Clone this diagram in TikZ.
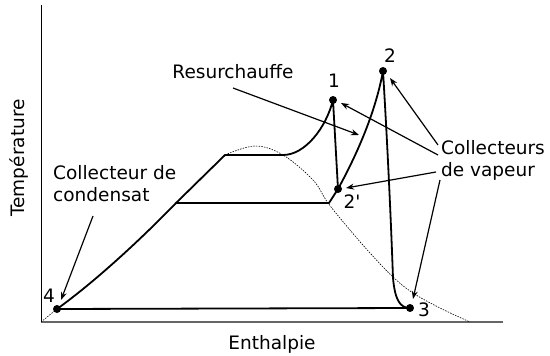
\documentclass[tikz,border=0pt]{standalone}
\usepackage{fontspec}
\setmainfont{DejaVu Sans}
\newfontfamily\plainfont{DejaVu Sans}[Mapping=]
\usetikzlibrary{arrows.meta}
\begin{document}
\begin{tikzpicture}[x=1pt,y=-1pt,
  curve/.style={line width=1.8pt,line join=round},
  arr/.style={line width=1.2pt,-{Stealth[length=8pt,width=6pt]}},
  dome/.style={line width=0.6pt,dash pattern=on 1.5pt off 1.2pt},
  lbl/.style={font=\fontsize{18.5}{22}\selectfont,inner sep=0pt},
  dot/.style={circle,fill=black,inner sep=0pt,minimum size=8pt}]
\useasboundingbox (0,0) rectangle (550,356);
% axes
\coordinate (O) at (41,322);
\coordinate (Ytop) at (41,5);
\coordinate (Xend) at (503,322);
\draw[line width=1pt] (Ytop) -- (O);
\draw[line width=1.2pt,black!60] (O) -- (Xend);
% state points
\node[dot] (p4) at (57,309) {};
\node[dot] (p3) at (410,308) {};
\node[dot] (p2p) at (338,189) {};
\node[dot] (p1) at (333,100) {};
\node[dot] (p2) at (383,71) {};
\coordinate (A) at (176,203);
\coordinate (B) at (225,155);
\coordinate (C) at (283,155);
\coordinate (D) at (329,203);
% dome
\draw[dome] (O) -- (p4.center);
\draw[dome] plot[smooth,tension=0.6] coordinates {(225,155) (255,146) (283,155) (313,180) (328,203) (350,230) (370,253) (393,277) (413,293) (440,308) (470,322)};
% cycle
\draw[curve] (p4.center) .. controls (100,278) and (148,232) .. (A) -- (B) -- (C)
  .. controls (305,155) and (326,128) .. (p1.center) -- (p2p.center);
\draw[curve] (A) -- (D) -- (p2p.center) .. controls (355,158) and (375,115) .. (p2.center)
  .. controls (389,170) and (392,250) .. (393,278) .. controls (395,300) and (400,308) .. (p3.center);
\draw[curve] (p4.center) -- (p3.center);
% point labels
\node[lbl] (l1) at (334,81) {1};
\node[lbl] (l2) at (390,56) {2};
\node[lbl] (l2p) at (352,202) {\plainfont 2'};
\node[lbl] (l3) at (424,310) {3};
\node[lbl] (l4) at (49,296) {4};
% annotation labels
\node[lbl] (res) at (233,72) {Resurchauffe};
\node[lbl,align=left,anchor=west] (cv) at (441,160) {Collecteurs\\de vapeur};
\node[lbl,align=left,anchor=west] (cc) at (53,184) {Collecteur de\\condensat};
\node[lbl,rotate=90] (temp) at (19,158) {Température};
\node[lbl] (enth) at (272,344) {Enthalpie};
% arrows
\coordinate (r0) at (233,88);
\coordinate (r1) at (359,135);
\draw[arr] (r0) -- (r1);
\coordinate (c1) at (438,145);
\coordinate (c2) at (438,155);
\coordinate (c3) at (436,172);
\coordinate (c4) at (440,180);
\coordinate (t2) at (390,78);
\coordinate (t1) at (341,103);
\coordinate (t2p) at (346,188);
\coordinate (t3) at (413,299);
\draw[arr] (c1) -- (t2);
\draw[arr] (c2) -- (t1);
\draw[arr] (c3) -- (t2p);
\draw[arr] (c4) -- (t3);
\coordinate (k0) at (93,216);
\coordinate (k1) at (61,300);
\draw[arr] (k0) -- (k1);
\end{tikzpicture}
\end{document}
